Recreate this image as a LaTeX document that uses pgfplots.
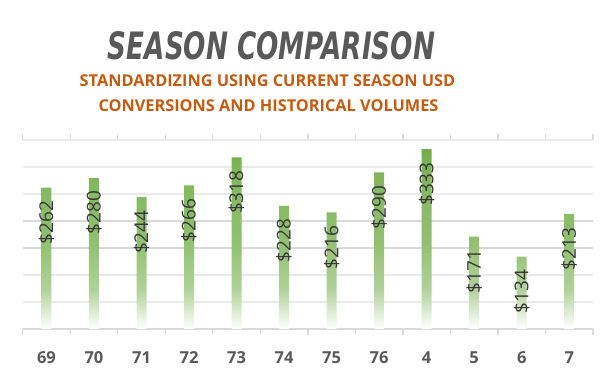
\documentclass[border=0pt]{standalone}
\usepackage{graphicx}
\usepackage{fontspec}
\usepackage{pgfplots}
\pgfplotsset{compat=1.18}
\setmainfont{Open Sans}
\newfontfamily\titlefont{DejaVu Sans}
\definecolor{barg}{HTML}{70AD47}
\definecolor{titlegray}{HTML}{595959}
\definecolor{suborange}{HTML}{C55A11}
\definecolor{labgray}{HTML}{383838}
\definecolor{gridA}{HTML}{BFBFBF}
\definecolor{gridB}{HTML}{D9D9D9}
\definecolor{gridC}{HTML}{EAEAEA}
\pgfdeclareverticalshading{bargrad}{100bp}{color(0bp)=(white); color(25bp)=(white); color(36bp)=(barg!55!white); color(50bp)=(barg!78!white); color(68bp)=(barg!88!white); color(75bp)=(barg); color(100bp)=(barg)}
\begin{document}
\begin{tikzpicture}
\path[use as bounding box] (0,0) rectangle (616bp,377bp);
\node[anchor=base, text=titlegray] at (271.5bp,317bp) {\resizebox{327bp}{28bp}{\titlefont\bfseries\itshape SEASON COMPARISON}};
\node[anchor=base, text=suborange, font=\fontsize{16.3bp}{18bp}\selectfont\bfseries] at (267.5bp,290bp) {STANDARDIZING USING CURRENT SEASON USD};
\node[anchor=base, text=suborange, font=\fontsize{16.3bp}{18bp}\selectfont\bfseries] at (268.5bp,265bp) {CONVERSIONS AND HISTORICAL VOLUMES};
\begin{axis}[
  at={(22.7bp,48bp)}, anchor=south west,
  scale only axis, width=570.3bp, height=189bp,
  xmin=-0.5, xmax=11.5, ymin=0, ymax=350,
  axis line style={draw=none},
  clip=false,
  /pgf/number format/assume math mode=true,
  xtick={0,...,11},
  xticklabels={69,70,71,72,73,74,75,76,4,5,6,7},
  xticklabel style={font=\fontsize{16.5bp}{18bp}\selectfont\bfseries, text=titlegray, anchor=base, yshift=-30bp, inner sep=0pt},
  major x tick style={draw=none},
  minor xtick={-0.5,0.5,...,11.5},
  minor x tick style={draw=gridB, line width=1.3bp},
  tick align=outside,
  minor tick length=6bp,
  ytick={50,100},
  yticklabels={},
  y tick style={draw=none},
  ymajorgrids,
  major grid style={draw=gridC, line width=1.3bp},
  minor ytick={0,150,200},
  yminorgrids,
  minor y tick style={draw=none},
  minor grid style={draw=gridB, line width=1.3bp},
  extra y ticks={250,300,350},
  extra y tick labels={},
  extra y tick style={grid style={draw=gridA, line width=1.3bp}, tick style={draw=none}},
]
\addplot[ybar, bar width=10bp, draw=none, shade, shading=bargrad,
  nodes near coords={\$\pgfmathprintnumber[assume math mode=true]{\pgfplotspointmeta}},
  every node near coord/.append style={font=\fontsize{19bp}{19bp}\selectfont, text=labgray, yshift=-13bp, rotate=90, anchor=east, inner sep=0pt}]
coordinates {(0,262) (1,280) (2,244) (3,266) (4,318) (5,228) (6,216) (7,290) (8,333) (9,171) (10,134) (11,213)};
\end{axis}
\end{tikzpicture}
\end{document}
